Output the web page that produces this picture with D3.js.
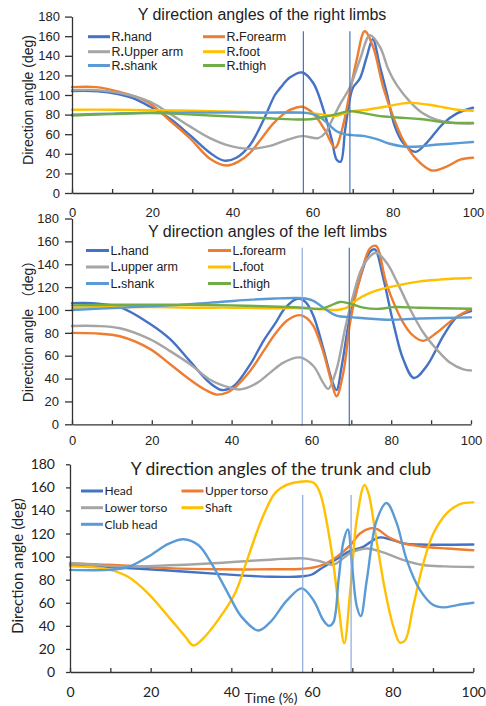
<!DOCTYPE html>
<html><head><meta charset="utf-8">
<script src="https://cdn.jsdelivr.net/npm/d3@7"></script>
<style>body{margin:0;background:#fff}svg{display:block}</style>
</head><body>
<script>
// ---------- DATA ----------
const xTicks = [0,10,20,30,40,50,60,70,80,90,100];
const xLabels = [0,20,40,60,80,100];
const yTicks = [0,20,40,60,80,100,120,140,160,180];

// Panel 1: right limbs
const p1Labels = ["R.hand","R.Forearm","R.Upper arm","R.foot","R.shank","R.thigh"];
const rHand = [[0,104],[5,104],[10,102],[15,97],[19.5,88],[24.4,76],[29.4,59],[34.4,41],[37.9,33],[41,36],[44.4,49],[47.7,74],[50.6,100],[51.9,107],[54.4,118],[57.4,123],[60.2,112],[62.7,85],[64.8,54],[66,34],[67,32],[68.1,64],[69.3,96],[70,107],[71.8,117],[73.5,139],[75,157],[76.8,129],[78.5,102],[80.5,68],[82.6,51],[85.7,42],[88.4,51],[92.6,71],[95.9,81],[100,87]];
const rForearm = [[0,108],[6,108],[12,103],[16,98],[19.5,91],[24.4,74],[29.4,56],[34.4,35],[38.6,28],[41.5,32],[44.4,41],[47.5,57],[50,70],[52,78],[54.5,85],[57.4,88],[60.2,81],[63.1,64],[65.6,46],[67.3,64],[69.3,103],[71,136],[73,165],[75.1,149],[77.6,108],[80.1,78],[82.6,54],[86,34],[89.7,23],[93.4,27],[96.8,34],[100,36]];
const rUpperArm = [[0,105],[6,105],[12,102],[19.5,93],[24.4,81],[29.4,68],[34.4,56],[39.4,48],[44.4,45],[49.4,48],[53.5,54],[57.4,58],[61.4,56],[63.1,61],[64.8,74],[66.9,91],[69.3,108],[71.8,136],[74.3,161],[76.8,149],[78.9,126],[81,110],[84.3,93],[87.6,81],[91,74.5],[95.1,71.5],[100,71]];
const rFoot = [[0,85],[10,85],[20,84.5],[30,84],[40,83],[50,82],[58,82],[62.7,80],[65.5,78.5],[69.3,83],[73.5,85],[78,88],[82.6,91.5],[85,92],[89,90],[92.6,87.5],[96,85],[100,84]];
const rShank = [[0,80],[10,81],[20,82],[30,82],[40,82],[50,82],[57,82],[60,80.5],[62,77],[64,70],[66,63],[68,60],[70,59],[73,58],[76,55],[79,50.5],[82.6,47.5],[86.8,47.5],[90,49],[95,50.5],[100,52]];
const rThigh = [[0,79],[10,80.5],[20,81.5],[30,80],[40,78],[50,76],[57,75],[60,75.5],[62.7,77.5],[66,80.5],[69.3,83.5],[72,82],[76,79],[81,77],[86.8,75.5],[93.4,72],[100,71.5]];
const p1Markers = [57.7, 69.3];

// Panel 2: left limbs
const p2Labels = ["L.hand","L.forearm","L.upper arm","L.foot","L.shank","L.thigh"];
const lHand = [[0,106],[5,106],[12,102.5],[19.5,88],[24.6,74.5],[29.6,55],[34.6,36],[37.5,30],[40.4,33],[44.6,52],[48,73],[50.9,88],[53.5,102],[56.7,110],[58.5,107],[60.5,95],[63,66],[65.1,39],[66.3,30],[67.6,51],[69.7,95],[72.2,128],[74.7,151],[75.9,153],[78,128],[80.5,89],[83,57],[85.7,40.5],[88.9,51],[93.1,77.5],[96.4,93.5],[100,99]];
const lForearm = [[0,80],[6,79.5],[12,77],[19.5,66],[24.6,52.5],[29.6,39],[33.5,30],[36.3,26],[39,28],[40.4,31],[44.6,46.5],[48,64],[50.9,79],[54,91],[57.1,95.5],[58.8,93],[60.5,86],[63,63],[65.1,36],[66.3,24.5],[68,45],[69.7,89],[72.2,128],[74.7,154],[76.2,156],[78.9,122],[83,89],[85.5,77.5],[88,73],[91.4,80],[95.6,92],[100,101]];
const lUpperArm = [[0,86],[6,86],[12,84],[19.5,74.5],[24.6,64],[29.6,52.5],[34.6,39],[39.6,32],[42.1,30.5],[46.3,36],[49.6,45],[53,54],[57.1,58.5],[60.5,51],[63,36],[64.2,31],[66.3,48],[68.4,83],[70.5,113],[73,139],[76.2,150],[78.9,141],[81.4,125],[84.7,101],[88,80.5],[91.4,65.5],[94.7,54],[98.1,48],[100,47]];
const lFoot = [[0,102],[10,102.5],[20,102.5],[30,102],[40,102],[50,101.5],[58,101.5],[63,100.5],[66.3,100],[68.9,102],[71.4,109],[74.7,115],[78.9,119.5],[83,122.5],[87.2,125],[92,126.5],[96,127.5],[100,128]];
const lShank = [[0,100],[12,102],[24.6,104],[37.1,107],[45,109],[50.9,110],[56.3,110.5],[58.5,110],[60.5,108],[63.8,100],[66.3,95],[70.5,93.5],[78.9,91.5],[87.2,92.5],[100,93.5]];
const lThigh = [[0,104],[10,104.5],[20,104.5],[30,104.5],[40,104],[50,103],[58,102],[62.2,101],[64.6,103.5],[67.1,107],[69.7,105.5],[73,102],[77.2,101],[80.5,102.5],[87,102],[100,101]];
const p2Markers = [57.7, 69.5];

// Panel 3: trunk and club
const p3Labels = ["Head","Upper torso","Lower torso","Shaft","Club head"];
const head = [[0,92.5],[12,90.5],[24.4,88],[36.7,85],[50,82.5],[57.9,83],[60,84.5],[62,89],[66.2,98],[69.5,105],[72.7,108.5],[76.5,116.5],[79.4,115],[82.7,111.5],[86.8,110.5],[100,110.5]];
const upperTorso = [[0,94],[12,92.5],[24.4,90],[36.7,89],[50,89],[57.9,89.5],[62,92],[66.2,100],[69.5,110],[71.9,120],[74.4,124.5],[76,124],[79.4,116],[82.7,111.5],[86.8,109],[93.4,107],[100,105.5]];
const lowerTorso = [[0,94.5],[6,93],[12,91.5],[24.4,92.5],[36.7,94.5],[50.4,97.5],[57.9,98.5],[62,96],[65.3,93],[69.5,103],[73.6,107],[76.9,104.5],[82.7,97],[87.6,92.7],[93,91.5],[100,91]];
const shaft = [[0,91.5],[5,91],[9.5,89],[14.4,82.5],[19.4,68],[24.4,48],[28.5,31],[30.6,23],[33.4,30.5],[36.7,45],[40.9,68],[44.2,100],[47.5,132],[50.4,153],[52.1,159],[55.4,164],[60.4,164],[62,155],[63.7,129],[65.3,94],[66.6,57],[68,25],[69.5,71],[71.1,132],[73,162],[74,155],[76,114],[78.1,71],[80.2,39],[81.8,25.5],[83.1,27.5],[85.1,57],[87.6,94],[90.1,120],[93.4,137.5],[96.7,145.5],[100,147]];
const clubHead = [[0,88.5],[9.5,88.5],[14.4,91],[19.4,100],[24.4,111],[28.1,115],[31.8,110],[35.1,94],[39.2,68],[42.5,48],[46.7,36],[49.6,43],[53.8,62],[57.5,72.5],[60.4,62],[62.8,45],[64.2,40],[65.3,43],[66.6,80],[67.8,113],[68.9,123.5],[69.9,94],[71.1,57],[72.1,48.5],[73.6,80],[76,131],[78.5,146.5],[81,129],[83.5,97],[86.8,71],[90.1,58],[92.6,56],[96,58],[100,60]];
const p3Markers = [57.7, 69.7];

// ---------- STYLE / LAYOUT ----------
const C = {blue:"#4472C4", orange:"#ED7D31", gray:"#A5A5A5", gold:"#FFC000", lblue:"#5B9BD5", green:"#70AD47"};
const ARIAL = "'Liberation Sans', Arial, 'Noto Sans CJK SC', sans-serif";
const CALI = "Lato, 'Open Sans', sans-serif";

const panels = [
  { title:"Y direction angles of the right limbs", titleX:262, titleY:20, titleSize:16, font:ARIAL,
    ylab:"Direction angle (deg)", ylabX:28, ylabY:100, ylabSize:14,
    x0:72, x1:473, yb:193, yt:16.6, tickFS:13, xLabPad:14.5, yLabRight:60, yTickLen:7,
    series:[rHand,rForearm,rUpperArm,rFoot,rShank,rThigh], labels:p1Labels,
    colors:[C.blue,C.orange,C.gray,C.gold,C.lblue,C.green],
    legCols:[88,203], legRows:[36.7,51.7,65.5], legLen:22, legFS:12.5, dotBold:true,
    markers:p1Markers, markerTop:165, markerColors:["#4472C4","#4472C4"], markerBottom:0 },
  { title:"Y direction angles of the left limbs", titleX:267.5, titleY:237, titleSize:16, font:ARIAL,
    ylab:"Direction angle （deg）", ylabX:28, ylabY:328, ylabSize:14,
    x0:72, x1:471, yb:424.3, yt:218.5, tickFS:13, xLabPad:11.5, yLabRight:59, yTickLen:7,
    series:[lHand,lForearm,lUpperArm,lFoot,lShank,lThigh], labels:p2Labels,
    colors:[C.blue,C.orange,C.gray,C.gold,C.lblue,C.green],
    legCols:[86,208], legRows:[250.5,267,283.5], legLen:23, legFS:12.5, dotBold:true,
    markers:p2Markers, markerTop:154.5, markerColors:["#8FAADC","#4472C4"], markerBottom:-1.5 },
  { title:"Y direction angles of the trunk and club", titleX:281, titleY:475, titleSize:17.5, font:CALI,
    ylab:"Direction angle (deg)", ylabX:18, ylabY:566, ylabSize:15,
    x0:70, x1:473.3, yb:672, yt:464.3, tickFS:14, xLabPad:15, yLabRight:55, yTickLen:4,
    series:[head,upperTorso,lowerTorso,shaft,clubHead], labels:p3Labels,
    colors:[C.blue,C.orange,C.gray,C.gold,C.lblue],
    legCols:[81,181.5], legRows:[491,507.7,524.3], legLen:22, legFS:12, dotBold:false,
    markers:p3Markers, markerTop:153.4, markerColors:["#8FAADC","#8FAADC"], markerBottom:0,
    xTitle:"Time (%)", xTitleX:271, xTitleY:703 }
];

const svg = d3.select("body").append("svg").attr("width",486).attr("height",706);

panels.forEach(p => {
  const g = svg.append("g");
  const x = d3.scaleLinear().domain([0,100]).range([p.x0,p.x1]);
  const y = d3.scaleLinear().domain([0,180]).range([p.yb,p.yt]);

  const line = d3.line().x(d=>x(d[0])).y(d=>y(d[1])).curve(d3.curveCatmullRom.alpha(0.5));
  p.series.forEach((s,i) => {
    g.append("path").attr("d",line(s)).attr("fill","none")
      .attr("stroke",p.colors[i]).attr("stroke-width",2.4)
      .attr("stroke-linejoin","round").attr("stroke-linecap","round");
  });

  p.markers.forEach((m,i) => {
    g.append("line").attr("x1",x(m)).attr("x2",x(m))
      .attr("y1",y(p.markerTop)).attr("y2",y(p.markerBottom))
      .attr("stroke",p.markerColors[i]).attr("stroke-width",1.2);
  });

  const ya = g.append("g").attr("transform",`translate(${p.x0},0)`)
    .call(d3.axisLeft(y).tickValues(yTicks).tickSize(p.yTickLen).tickSizeOuter(0)
      .tickPadding(p.x0 - p.yLabRight - p.yTickLen));
  const xa = g.append("g").attr("transform",`translate(0,${p.yb})`)
    .call(d3.axisBottom(x).tickValues(xTicks).tickSize(-4).tickSizeOuter(0)
      .tickPadding(p.xLabPad).tickFormat(d => xLabels.includes(d) ? d : ""));
  [ya,xa].forEach(a => {
    a.selectAll("path,line").attr("stroke","#333").attr("stroke-width",1.3);
    a.selectAll("text").attr("fill","#222").style("font-family",p.font).style("font-size",p.tickFS+"px");
  });

  g.append("text").attr("x",p.titleX).attr("y",p.titleY).attr("text-anchor","middle")
    .style("font-family",p.font).style("font-size",p.titleSize+"px").attr("fill","#222").text(p.title);

  g.append("text").attr("transform",`translate(${p.ylabX},${p.ylabY}) rotate(-90)`)
    .attr("text-anchor","middle").attr("dy","0.35em")
    .style("font-family",p.font).style("font-size",p.ylabSize+"px").attr("fill","#222").text(p.ylab);

  if (p.xTitle) {
    g.append("text").attr("x",p.xTitleX).attr("y",p.xTitleY).attr("text-anchor","middle")
      .style("font-family",p.font).style("font-size","14px").attr("fill","#222").text(p.xTitle);
  }

  p.labels.forEach((lab,i) => {
    const lx = p.legCols[i%2], ly = p.legRows[Math.floor(i/2)];
    g.append("line").attr("x1",lx).attr("x2",lx+p.legLen).attr("y1",ly).attr("y2",ly)
      .attr("stroke",p.colors[i]).attr("stroke-width",3);
    const t = g.append("text").attr("x",lx+p.legLen+1.5).attr("y",ly).attr("dy","0.35em")
      .style("font-family",p.font).style("font-size",p.legFS+"px").attr("fill","#222");
    if (p.dotBold) {
      const k = lab.indexOf(".");
      t.append("tspan").text(lab.slice(0,k));
      t.append("tspan").style("font-weight","bold").text(".");
      t.append("tspan").text(lab.slice(k+1));
    } else t.text(lab);
  });
});
</script>
</body></html>
